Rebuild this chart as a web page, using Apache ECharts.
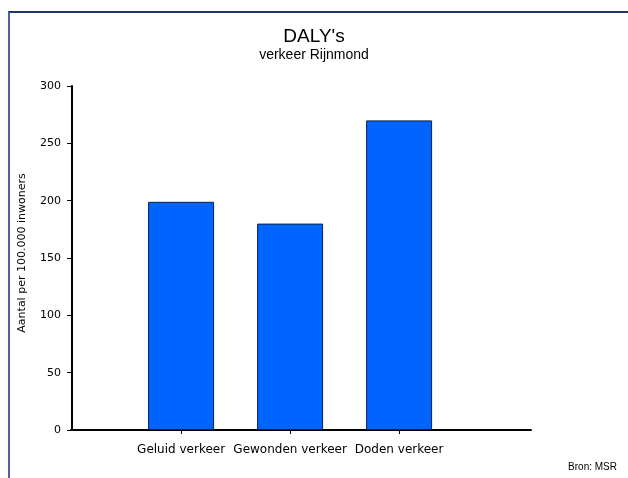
<!DOCTYPE html>
<html>
<head>
<meta charset="utf-8">
<script src="https://cdn.jsdelivr.net/npm/echarts@6/dist/echarts.min.js"></script>
<style>
    html, body { margin: 0; padding: 0; background: #fff; }
    #frame {
        position: absolute; left: 8px; top: 11px; right: 0; bottom: 0;
        border-left: 2px solid #4a66a3; border-top: 2px solid #22356e;
    }
    #main { position: absolute; left: 0; top: 0; width: 628px; height: 478px; }
</style>
</head>
<body>
<div id="frame"></div>
<div id="main"></div>
<script>
// categorieen en waarden (DALY's per 100.000 inwoners)
var categorieen = ['Geluid verkeer', 'Gewonden verkeer', 'Doden verkeer'];
var waarden = [199, 180, 270];
var yTicks = [0, 50, 100, 150, 200, 250, 300];

function dalyGrafiek() {
    var chartDom = document.getElementById('main');
    var myChart = echarts.init(chartDom);
    var font = 'Liberation Sans, Arial, sans-serif';
    var breed = 'DejaVu Sans, sans-serif';

    // posities 1..n op een waarde-as, zodat de as voorbij de laatste staaf doorloopt
    var posities = categorieen.map(function (c, i) { return i + 1; });
    var data = waarden.map(function (v, i) { return [posities[i], v]; });

    var option = {
        backgroundColor: 'transparent',
        animation: false,
        title: [
            {
                text: "DALY's",
                left: 'center',
                top: 22,
                textStyle: { fontFamily: font, fontSize: 19, fontWeight: 'normal', color: '#000' }
            },
            {
                text: 'verkeer Rijnmond',
                left: 'center',
                top: 43,
                textStyle: { fontFamily: font, fontSize: 14, fontWeight: 'normal', color: '#000' }
            },
            {
                text: 'Bron: MSR',
                right: 6,
                top: 457,
                textStyle: { fontFamily: font, fontSize: 10, fontWeight: 'normal', color: '#000' }
            }
        ],
        grid: { left: 71, right: 97, top: 86, bottom: 48, containLabel: false },
        xAxis: {
            type: 'value',
            min: -0.01,
            max: 4.21,
            splitLine: { show: false },
            axisLine: { show: true, onZero: false, lineStyle: { color: '#000', width: 2 } },
            axisTick: { show: true, length: 4, customValues: posities, lineStyle: { color: '#000' } },
            axisLabel: {
                customValues: posities,
                margin: 14,
                fontFamily: breed,
                fontSize: 12,
                color: '#000',
                formatter: function (v) { return categorieen[Math.round(v) - 1] || ''; }
            }
        },
        yAxis: {
            type: 'value',
            min: 0,
            max: 300,
            interval: 50,
            name: 'Aantal per 100.000 inwoners',
            nameLocation: 'middle',
            nameGap: 43,
            nameTextStyle: { fontFamily: breed, fontSize: 11, color: '#000', padding: [0, 0, 0, 10] },
            splitLine: { show: false },
            axisLine: { show: true, lineStyle: { color: '#000', width: 2 } },
            axisTick: { show: true, length: 5, lineStyle: { color: '#000' } },
            axisLabel: {
                margin: 10,
                fontFamily: breed,
                fontSize: 11,
                color: '#000',
                formatter: function (v) { return yTicks.indexOf(v) >= 0 ? String(v) : ''; }
            }
        },
        series: [
            {
                type: 'bar',
                data: data,
                barWidth: 66,
                itemStyle: { color: '#0064ff', borderColor: '#0d1f45', borderWidth: 1 }
            }
        ]
    };

    option && myChart.setOption(option);
}

dalyGrafiek();
</script>
</body>
</html>
